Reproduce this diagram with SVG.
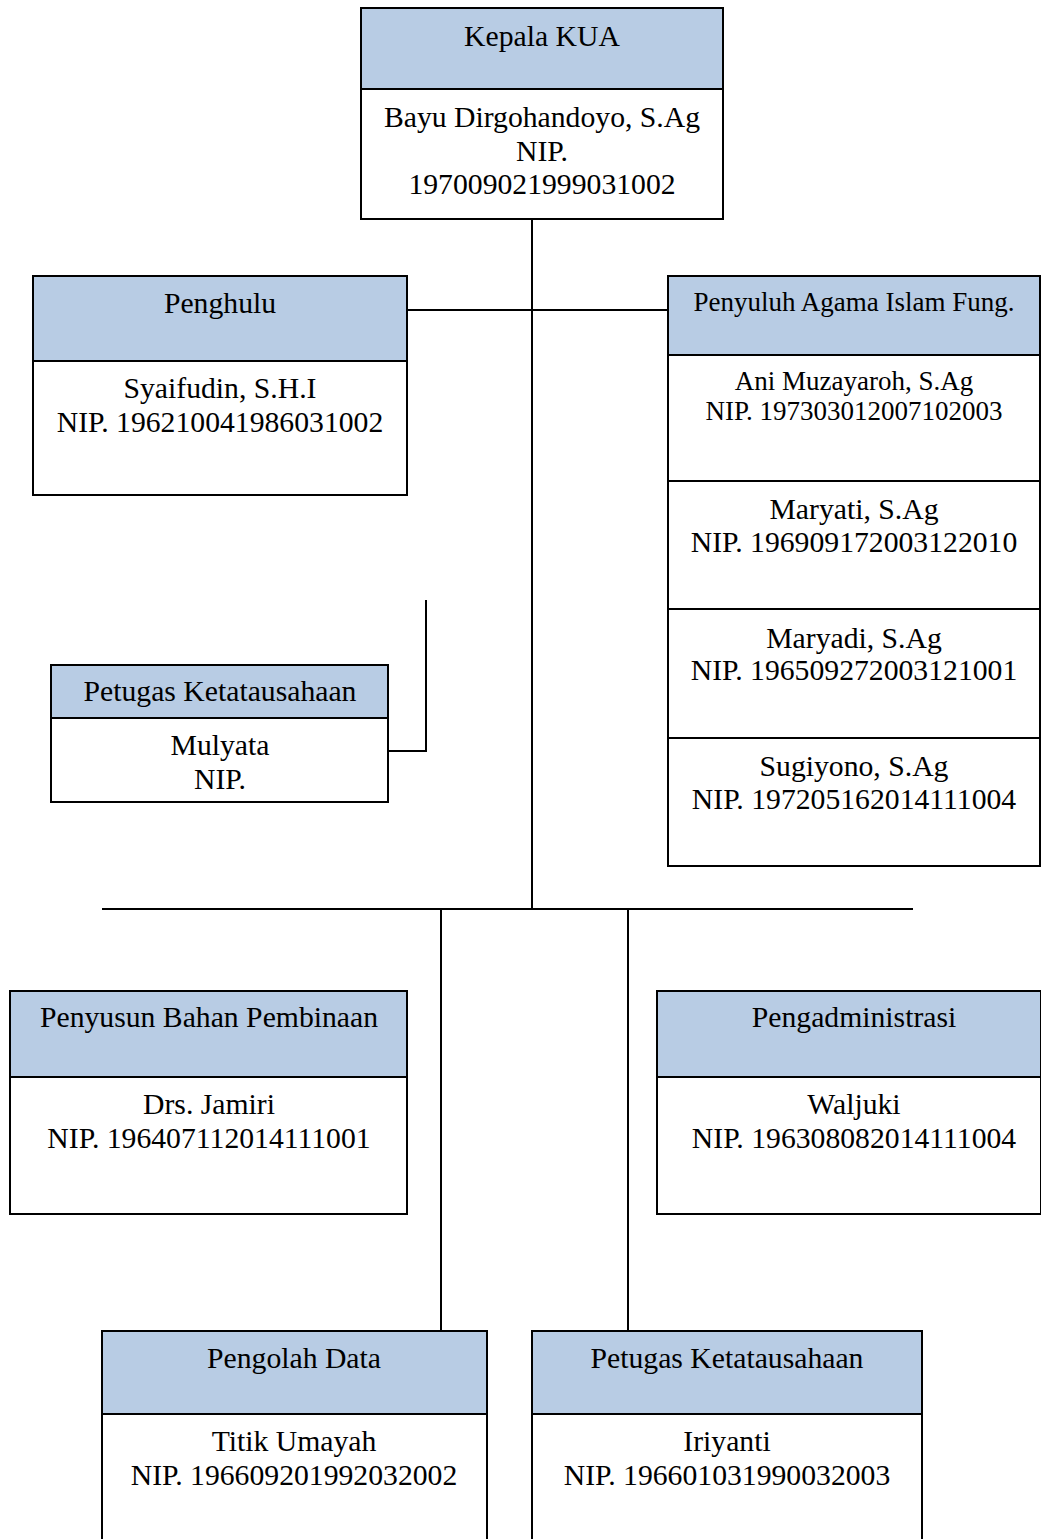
<svg xmlns="http://www.w3.org/2000/svg" width="1041" height="1539" viewBox="0 0 1041 1539">
<style>
.box{fill:#ffffff;stroke:#000;stroke-width:2}
.hd{fill:#B8CCE4;stroke:#000;stroke-width:2}
.ln{stroke:#000;stroke-width:2;fill:none}
text{font-family:"Liberation Serif","Times New Roman",serif;font-size:29.7px;fill:#000;text-anchor:middle}
.s{font-size:27px}
</style>
<rect width="1041" height="1539" fill="#fff"/>
<g id="connectors">
<line class="ln" x1="532" y1="219" x2="532" y2="909"/>
<line class="ln" x1="407" y1="310" x2="668" y2="310"/>
<polyline class="ln" points="426,600 426,751 388,751"/>
<line class="ln" x1="102" y1="909" x2="913" y2="909"/>
<line class="ln" x1="441" y1="909" x2="441" y2="1331"/>
<line class="ln" x1="628" y1="909" x2="628" y2="1331"/>
</g>
<g id="kepala">
<rect class="box" x="361" y="8" width="362" height="211"/>
<rect class="hd" x="361" y="8" width="362" height="81"/>
<text x="542" y="46">Kepala KUA</text>
<text x="542" y="127">Bayu Dirgohandoyo, S.Ag</text>
<text x="542" y="161">NIP.</text>
<text x="542" y="194">197009021999031002</text>
</g>
<g id="penghulu">
<rect class="box" x="33" y="276" width="374" height="219"/>
<rect class="hd" x="33" y="276" width="374" height="85"/>
<text x="220" y="313">Penghulu</text>
<text x="220" y="398">Syaifudin, S.H.I</text>
<text x="220" y="432">NIP. 196210041986031002</text>
</g>
<g id="penyuluh">
<rect class="box" x="668" y="276" width="372" height="590"/>
<rect class="hd" x="668" y="276" width="372" height="79"/>
<line class="ln" x1="668" y1="481" x2="1040" y2="481"/>
<line class="ln" x1="668" y1="609" x2="1040" y2="609"/>
<line class="ln" x1="668" y1="738" x2="1040" y2="738"/>
<text class="s" x="854" y="311">Penyuluh Agama Islam Fung.</text>
<text class="s" x="854" y="390">Ani Muzayaroh, S.Ag</text>
<text class="s" x="854" y="420">NIP. 197303012007102003</text>
<text x="854" y="519">Maryati, S.Ag</text>
<text x="854" y="552">NIP. 196909172003122010</text>
<text x="854" y="648">Maryadi, S.Ag</text>
<text x="854" y="680">NIP. 196509272003121001</text>
<text x="854" y="776">Sugiyono, S.Ag</text>
<text x="854" y="809">NIP. 197205162014111004</text>
</g>
<g id="petugas1">
<rect class="box" x="51" y="665" width="337" height="137"/>
<rect class="hd" x="51" y="665" width="337" height="53"/>
<text x="220" y="701">Petugas Ketatausahaan</text>
<text x="220" y="755">Mulyata</text>
<text x="220" y="789">NIP.</text>
</g>
<g id="penyusun">
<rect class="box" x="10" y="991" width="397" height="223"/>
<rect class="hd" x="10" y="991" width="397" height="86"/>
<text x="209" y="1027">Penyusun Bahan Pembinaan</text>
<text x="209" y="1114">Drs. Jamiri</text>
<text x="209" y="1148">NIP. 196407112014111001</text>
</g>
<g id="pengadministrasi">
<rect class="box" x="657" y="991" width="384" height="223"/>
<rect class="hd" x="657" y="991" width="384" height="86"/>
<text x="854" y="1027">Pengadministrasi</text>
<text x="854" y="1114">Waljuki</text>
<text x="854" y="1148">NIP. 196308082014111004</text>
</g>
<g id="pengolah">
<rect class="box" x="102" y="1331" width="385" height="220"/>
<rect class="hd" x="102" y="1331" width="385" height="83"/>
<text x="294" y="1368">Pengolah Data</text>
<text x="294" y="1451">Titik Umayah</text>
<text x="294" y="1485">NIP. 196609201992032002</text>
</g>
<g id="petugas2">
<rect class="box" x="532" y="1331" width="390" height="220"/>
<rect class="hd" x="532" y="1331" width="390" height="83"/>
<text x="727" y="1368">Petugas Ketatausahaan</text>
<text x="727" y="1451">Iriyanti</text>
<text x="727" y="1485">NIP. 196601031990032003</text>
</g>
</svg>
